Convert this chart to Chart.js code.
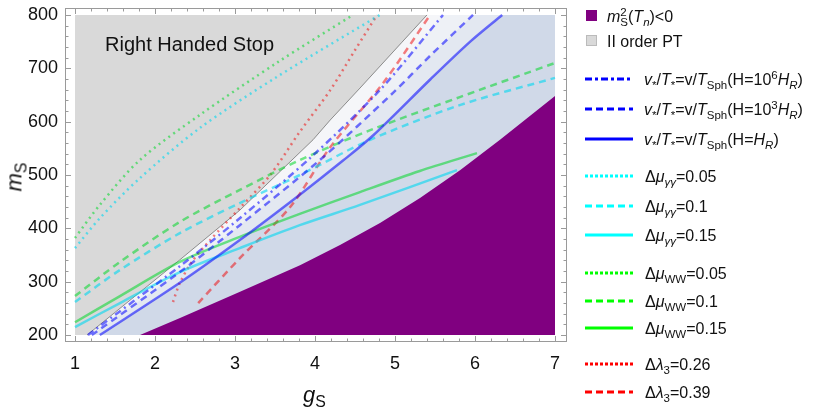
<!DOCTYPE html>
<html>
<head>
<meta charset="utf-8">
<script src="https://cdn.jsdelivr.net/npm/chart.js@4.4.1/dist/chart.umd.min.js"></script>
<style>
  body { margin: 0; background: #fff; font-family: "Liberation Sans", Arial, sans-serif; }
  #wrap { position: relative; width: 823px; height: 409px; overflow: hidden; }
  canvas { position: absolute; left: 0; top: 0; }
  .txt { position: absolute; color: #111; white-space: nowrap; line-height: 1; }
  .row { position: absolute; height: 20px; display: flex; align-items: center; font-size: 16px; color: #111; white-space: nowrap; }
  .row svg { position: absolute; left: 0; top: 7px; }
  .row span.t { position: absolute; top: 2px; }
  .sq { position: absolute; left: 2px; top: 4px; width: 11px; height: 11px; }
  i { font-style: italic; }
  sub, sup { font-size: 72%; line-height: 0; }
  .ss { display: inline-block; vertical-align: -4px; line-height: 0.85; font-size: 72%; }
  .ss span { display: block; }
</style>
</head>
<body>
<div id="wrap">
  <canvas id="c" width="823" height="409"></canvas>
  <div class="txt" style="left:105px; top:34px; font-size:20px;">Right Handed Stop</div>
  <div class="txt" style="left:303px; top:384px; font-size:22px;"><i>g</i><sub>S</sub></div>
  <div class="txt" style="left:0px; top:166px; font-size:22px; transform: rotate(-90deg);"><i>m</i><sub>S</sub></div>
  <div id="legend"></div>
</div>
<script>
// axis ticks
const xTicks = [1, 2, 3, 4, 5, 6, 7];
const yTicks = [200, 300, 400, 500, 600, 700, 800];

// regions [gS, mS]
const grayEdge = [[1, 200], [1.15, 200], [2.31, 341], [3.06, 434], [3.975, 566], [4.19, 603], [4.5625, 663], [5.0875, 749], [5.4, 800]];
const purpleEdge = [[1.8125, 200], [2.3125, 232], [3.0625, 281], [3.8125, 331], [4.3125, 369], [4.8125, 410], [5.3125, 457], [5.8125, 509], [6.3125, 566], [7, 648]];

// v*/T* = v/T_Sph curves
const blueDashDot = [[1.1625, 200], [2.31, 329], [3.06, 419], [3.94, 532], [4.81, 659], [5.6, 800]];
const blueDashed = [[1.21, 200], [2.31, 318], [3.06, 406], [4.06, 528], [4.975, 654], [5.45, 725], [5.975, 800]];
const blueSolid = [[1.31, 200], [2.31, 298], [3.06, 378], [3.81, 463], [4.35, 527], [4.725, 574], [5.44, 679], [5.94, 750], [6.34, 800]];

// Delta mu_gamma gamma
const cyanDotted = [[1, 363], [1.31, 419], [1.81, 494], [2.56, 588], [3.525, 684], [4.81, 800]];
const cyanDashed = [[1, 262], [1.5625, 322], [2.31, 391], [3.06, 447.5], [3.81, 500], [4.69, 566], [5.81, 631], [7, 682]];
const cyanSolid = [[1, 215], [1.5625, 260], [2.31, 318], [3.06, 363], [3.81, 406], [4.5625, 444], [5.775, 509]];

// Delta mu_WW
const greenDotted = [[1, 382], [1.31, 444], [1.81, 528], [2.56, 612.5], [3.54, 712], [4.475, 800]];
const greenDashed = [[1, 273], [1.5625, 337], [2.31, 412], [3.06, 472], [3.81, 528], [4.69, 584], [5.81, 646], [7, 710]];
const greenSolid = [[1, 224], [1.5625, 273], [2.31, 337], [3.06, 384], [3.81, 427], [4.5625, 468], [5.31, 507.5], [6.025, 541]];

// Delta lambda_3
const redDotted = [[2.225, 262], [2.31, 297.5], [2.46, 337], [2.69, 378], [3.06, 438], [3.44, 500], [3.81, 581], [4.19, 659], [4.5, 734], [4.775, 800]];
const redDashed = [[2.54, 260], [3.06, 344], [3.69, 440], [4.19, 552], [4.85, 672], [5.44, 800]];

const pts = a => a.map(p => ({ x: p[0], y: p[1] }));

const DOT = [2, 4], DASH = [7, 5], DASHDOT = [7, 4, 2, 4];

function curve(data, color, dash, order) {
  return {
    data: pts(data), borderColor: color, borderWidth: 2.5, borderDash: dash,
    pointRadius: 0, fill: false, tension: 0.3, order: order
  };
}
function region(data, color, to, order, extra) {
  return Object.assign({
    data: pts(data), backgroundColor: color, borderWidth: 0, pointRadius: 0,
    fill: { value: to }, tension: 0, order: order
  }, extra || {});
}
// white veil above each blue curve, starting from the bottom-left corner
const veil = a => [[1, 200]].concat(a);

const BLUE = "rgba(0,0,255,0.55)", CYAN = "rgba(0,215,240,0.6)",
      GREEN = "rgba(0,215,40,0.55)", RED = "rgba(240,0,0,0.5)";

const framePlugin = {
  id: "frame",
  afterDraw(chart) {
    const { ctx, chartArea: a, scales: { x, y } } = chart;
    ctx.save();
    ctx.strokeStyle = "#9a9a9a";
    ctx.lineWidth = 1;
    ctx.strokeRect(a.left + 0.5, a.top + 0.5, a.right - a.left - 1, a.bottom - a.top - 1);
    ctx.beginPath();
    for (let v = 0.8; v <= 7.2; v += 0.2) {
      const px = Math.round(x.getPixelForValue(v)) + 0.5;
      if (px < a.left + 1 || px > a.right - 1) continue;
      const major = Math.abs(v - Math.round(v)) < 1e-6;
      const len = major ? 6 : 3.5;
      ctx.moveTo(px, a.bottom); ctx.lineTo(px, a.bottom - len);
      ctx.moveTo(px, a.top); ctx.lineTo(px, a.top + len);
    }
    for (let v = 180; v <= 820; v += 20) {
      const py = Math.round(y.getPixelForValue(v)) + 0.5;
      if (py < a.top + 1 || py > a.bottom - 1) continue;
      const len = v % 100 === 0 ? 6 : 3.5;
      ctx.moveTo(a.left, py); ctx.lineTo(a.left + len, py);
      ctx.moveTo(a.right, py); ctx.lineTo(a.right - len, py);
    }
    ctx.stroke();
    ctx.restore();
  }
};

new Chart(document.getElementById("c"), {
  type: "line",
  data: {
    datasets: [
      region([[1, 800], [7, 800]], "#d0d9e8", 200, 100),
      region(veil(blueSolid), "rgba(255,255,255,0.4)", 800, 95),
      region(veil(blueDashed), "rgba(255,255,255,0.4)", 800, 94),
      region(veil(blueDashDot), "rgba(255,255,255,0.4)", 800, 93),
      region(purpleEdge, "#800080", 200, 90),
      region(grayEdge, "#d9d9d9", 800, 85, {
        borderWidth: 1,
        segment: { borderColor: c => c.p0DataIndex === 0 ? "rgba(0,0,0,0)" : "#8c8c8c" }
      }),
      curve(blueDashDot, BLUE, DASHDOT, 1),
      curve(blueDashed, BLUE, DASH, 2),
      curve(blueSolid, BLUE, [], 3),
      curve(cyanDotted, CYAN, DOT, 4),
      curve(cyanDashed, CYAN, DASH, 5),
      curve(cyanSolid, CYAN, [], 6),
      curve(greenDotted, GREEN, DOT, 7),
      curve(greenDashed, GREEN, DASH, 8),
      curve(greenSolid, GREEN, [], 9),
      curve(redDotted, RED, DOT, 10),
      curve(redDashed, RED, DASH, 11)
    ]
  },
  options: {
    responsive: false,
    animation: false,
    events: [],
    layout: { padding: { top: 8, right: 256, left: 0, bottom: 0 } },
    plugins: { legend: { display: false }, tooltip: { enabled: false } },
    scales: {
      x: {
        type: "linear", min: 0.875, max: 7.15,
        afterBuildTicks: s => { s.ticks = xTicks.map(v => ({ value: v })); },
        afterFit: s => { s.height = 67; s.paddingLeft = 0; s.paddingRight = 0; },
        grid: { display: false, drawTicks: false },
        border: { display: false },
        ticks: { padding: 11, color: "#111", font: { family: "Liberation Sans", size: 18 } }
      },
      y: {
        type: "linear", min: 187, max: 813,
        afterBuildTicks: s => { s.ticks = yTicks.map(v => ({ value: v })); },
        afterFit: s => { s.width = 65; s.paddingTop = 0; s.paddingBottom = 0; },
        grid: { display: false, drawTicks: false },
        border: { display: false },
        ticks: { padding: 7, color: "#111", font: { family: "Liberation Sans", size: 18 } }
      }
    }
  },
  plugins: [framePlugin]
});

// legend
const legendItems = [
  { y: 16, sq: "#800080", html: '<i>m</i><span class="ss"><span>2</span><span>S</span></span>(<i>T<sub>n</sub></i>)&lt;0' },
  { y: 41, sq: "#d9d9d9", html: "II order PT" },
  { y: 79, c: "#0000ff", d: "7,3,3,3", html: "<i>v</i><sub>*</sub>/<i>T</i><sub>*</sub>=v/<i>T</i><sub>Sph</sub>(H=10<sup>6</sup><i>H<sub>R</sub></i>)" },
  { y: 109, c: "#0000ff", d: "7,4", html: "<i>v</i><sub>*</sub>/<i>T</i><sub>*</sub>=v/<i>T</i><sub>Sph</sub>(H=10<sup>3</sup><i>H<sub>R</sub></i>)" },
  { y: 139, c: "#0000ff", d: "", html: "<i>v</i><sub>*</sub>/<i>T</i><sub>*</sub>=v/<i>T</i><sub>Sph</sub>(H=<i>H<sub>R</sub></i>)" },
  { y: 176, c: "#00ffff", d: "3,2", html: "Δ<i>μ<sub>γγ</sub></i>=0.05" },
  { y: 206, c: "#00ffff", d: "7,4", html: "Δ<i>μ<sub>γγ</sub></i>=0.1" },
  { y: 235, c: "#00ffff", d: "", html: "Δ<i>μ<sub>γγ</sub></i>=0.15" },
  { y: 273, c: "#00ff00", d: "3,2", html: "Δ<i>μ</i><sub>WW</sub>=0.05" },
  { y: 301, c: "#00ff00", d: "7,4", html: "Δ<i>μ</i><sub>WW</sub>=0.1" },
  { y: 328, c: "#00ff00", d: "", html: "Δ<i>μ</i><sub>WW</sub>=0.15" },
  { y: 364, c: "#ff0000", d: "3,2", html: "Δ<i>λ</i><sub>3</sub>=0.26" },
  { y: 392, c: "#ff0000", d: "7,4", html: "Δ<i>λ</i><sub>3</sub>=0.39" }
];
const leg = document.getElementById("legend");
legendItems.forEach(it => {
  const row = document.createElement("div");
  row.className = "row";
  row.style.left = "584px";
  row.style.top = (it.y - 10) + "px";
  if (it.sq) {
    row.innerHTML = '<div class="sq" style="background:' + it.sq + ';' +
      (it.sq === "#d9d9d9" ? 'border:1px solid #bbb;box-sizing:border-box;' : '') + '"></div>' +
      '<span class="t" style="left:23px">' + it.html + '</span>';
  } else {
    row.innerHTML = '<svg width="50" height="6"><line x1="1" y1="3" x2="49" y2="3" stroke="' + it.c +
      '" stroke-width="3" stroke-dasharray="' + it.d + '"/></svg>' +
      '<span class="t" style="left:' + (it.c === "#0000ff" ? 60 : 61) + 'px">' + it.html + '</span>';
  }
  leg.appendChild(row);
});
</script>
</body>
</html>
